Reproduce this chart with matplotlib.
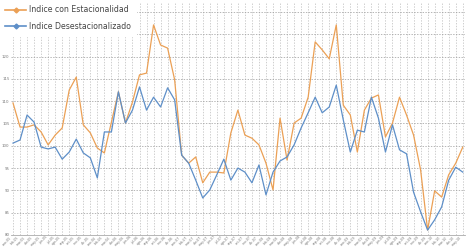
import matplotlib
matplotlib.use("Agg")
import matplotlib.pyplot as plt
from matplotlib.lines import Line2D

# ── data ──
meses = ["ene", "feb", "mar", "abr", "may", "jun", "jul", "ago", "sep", "oct", "nov", "dic"]
etiquetas = [f"{meses[k % 12]}-{5 + k // 12:02d}" for k in range(65)]

con_estac = [109.6, 104.2, 104.2, 104.7, 103.1, 100.2, 102.4, 104.0, 112.5, 115.4,
             104.7, 102.9, 99.5, 98.4, 105.3, 112.1, 105.1, 109.8, 115.9, 116.3,
             127.1, 122.6, 121.9, 114.8, 97.9, 96.1, 97.5, 91.7, 94.1, 94.1,
             93.9, 102.9, 108.0, 102.4, 101.7, 100.2, 96.1, 90.1, 106.2, 96.8,
             105.1, 106.2, 110.9, 123.3, 121.5, 119.5, 127.1, 109.1, 106.9, 98.6,
             108.0, 110.7, 111.4, 102.0, 105.1, 110.9, 106.9, 102.4, 94.6, 81.1,
             89.9, 88.5, 93.5, 96.1, 99.7]

desestac = [100.6, 101.3, 106.9, 105.3, 99.7, 99.3, 99.7, 97.0, 98.6, 101.5,
            98.4, 97.3, 92.8, 103.1, 103.1, 112.1, 105.1, 108.0, 113.2, 108.0,
            110.9, 108.7, 113.0, 110.3, 97.9, 96.1, 92.3, 88.3, 90.1, 93.5,
            97.0, 92.3, 95.0, 94.1, 91.7, 95.7, 89.0, 94.1, 96.6, 97.5,
            100.2, 104.0, 107.4, 110.9, 107.4, 108.7, 113.6, 105.8, 98.6, 103.5,
            103.1, 110.9, 106.2, 98.6, 104.7, 99.1, 98.2, 89.6, 85.2, 81.1,
            83.4, 86.3, 92.3, 95.2, 94.1]

NARANJA = "#EBA055"
AZUL = "#5E8FC8"

fig = plt.figure(figsize=(4.68, 2.47), dpi=100)
a = fig.add_axes([0.0233, 0.0486, 0.970, 0.939])
x = list(range(len(etiquetas)))
a.plot(x, con_estac, color=NARANJA, lw=0.9)
a.plot(x, desestac, color=AZUL, lw=0.9)

a.set_xlim(-0.3, len(x) - 0.7)
a.set_ylim(80, 132)
a.set_yticks(range(80, 131, 5))
a.set_xticks(x)
a.set_xticklabels(etiquetas, rotation=45, ha="right", fontsize=2.3, color="#777777")
a.tick_params(axis="y", labelsize=2.8, labelcolor="#777777", length=0, pad=1)
a.tick_params(axis="x", length=0, pad=0.3)
a.grid(True, axis="x", ls=(0, (2, 2)), color="#BBBBBB", lw=0.5)
a.grid(True, axis="y", ls=(0, (2, 2)), color="#999999", lw=0.5)
a.set_axisbelow(True)
for s in ("top", "right", "left"):
    a.spines[s].set_visible(False)
a.spines["bottom"].set_color("#AAAAAA")
a.spines["bottom"].set_linewidth(0.6)

handles = [Line2D([], [], color=NARANJA, lw=1.2, marker="D", ms=2.5),
           Line2D([], [], color=AZUL, lw=1.2, marker="D", ms=2.5)]
leg = fig.legend(handles, ["Indice con Estacionalidad", "Indice Desestacionalizado"],
                 loc="upper left", bbox_to_anchor=(0.0, 1.0), fontsize=5.6,
                 frameon=True, facecolor="white", edgecolor="white", framealpha=1,
                 handlelength=2.6, handletextpad=0.4, labelspacing=0.95, borderpad=0.7,
                 borderaxespad=0)
for t in leg.get_texts():
    t.set_color("#444444")

fig.savefig("out.png", dpi=100)
